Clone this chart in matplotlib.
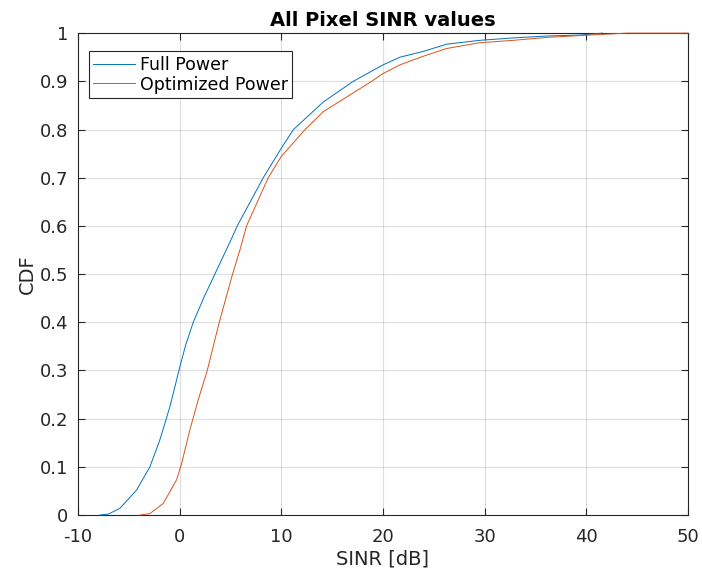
import numpy as np
import matplotlib
matplotlib.use("Agg")
import matplotlib.pyplot as plt

plt.rcParams["axes.unicode_minus"] = False

# CDF curves of per-pixel SINR (dB)
full_sinr = [-7.84, -7.0, -5.87, -4.23, -2.92, -1.94, -0.95, -0.3, -0.07, 0.6, 1.34,
             2.4, 3.47, 5.12, 5.67, 8.23, 10.0, 11.2, 14.13, 17.08, 20.0, 21.66,
             23.96, 26.25, 29.5, 32.8, 36.1, 39.4, 41.6]
full_cdf = [0.0, 0.002, 0.014, 0.052, 0.1, 0.156, 0.225, 0.28, 0.3, 0.353, 0.4,
            0.452, 0.5, 0.574, 0.6, 0.7, 0.761, 0.8, 0.857, 0.9, 0.934, 0.950,
            0.962, 0.977, 0.985, 0.99, 0.994, 0.996, 1.0]

opt_sinr = [-3.9, -2.92, -1.61, -0.3, 0.2, 1.0, 1.83, 2.72, 3.9, 5.21, 5.93, 6.59,
            8.72, 10.0, 12.35, 14.13, 18.89, 20.0, 21.66, 23.96, 26.25, 29.5, 32.8,
            36.1, 39.4, 44.0, 50.0]
opt_cdf = [0.0, 0.003, 0.024, 0.073, 0.107, 0.176, 0.239, 0.3, 0.4, 0.5, 0.55, 0.6,
           0.7, 0.744, 0.8, 0.837, 0.9, 0.916, 0.934, 0.952, 0.968, 0.980, 0.985,
           0.991, 0.995, 1.0, 1.0]

x_ticks = [-10, 0, 10, 20, 30, 40, 50]
y_ticks = [0, 0.1, 0.2, 0.3, 0.4, 0.5, 0.6, 0.7, 0.8, 0.9, 1]
y_labels = ["0", "0.1", "0.2", "0.3", "0.4", "0.5", "0.6", "0.7", "0.8", "0.9", "1"]

fig = plt.figure(figsize=(7.02, 5.71), dpi=100)
ax = fig.add_axes([0.111, 0.098, 0.869, 0.844])

ax.plot(full_sinr, full_cdf, color="#0072BD", lw=0.7, label="Full Power",
        zorder=3, clip_on=False)
ax.plot(opt_sinr, opt_cdf, color="#D95319", lw=0.7, label="Optimized Power",
        zorder=3, clip_on=False)

ax.set_xlim(-10, 50)
ax.set_ylim(0, 1)
ax.set_xticks(x_ticks)
ax.set_yticks(y_ticks)
ax.set_yticklabels(y_labels)
ax.grid(True, color="#262626", alpha=0.15, lw=0.8)
ax.tick_params(direction="in", length=5, top=True, right=True,
               labelsize=13, colors="#262626")
ax.tick_params(axis="x", pad=9)
ax.tick_params(axis="y", pad=7)
for s in ax.spines.values():
    s.set_color("#262626")
    s.set_linewidth(0.8)

ax.set_xlabel("SINR [dB]", fontsize=14, color="#262626", labelpad=3)
ax.set_ylabel("CDF", fontsize=14, color="#262626", labelpad=2)
ax.set_title("All Pixel SINR values", fontsize=14, fontweight="bold", pad=5)

leg = ax.legend(loc="upper left", bbox_to_anchor=(0.018, 0.962), fontsize=12.5,
                handlelength=2.4, handletextpad=0.3, borderpad=0.25,
                labelspacing=0.1, fancybox=False, framealpha=1,
                edgecolor="#262626", borderaxespad=0)
leg.get_frame().set_linewidth(0.8)
leg.set_zorder(5)

fig.savefig("out.png", dpi=100)
